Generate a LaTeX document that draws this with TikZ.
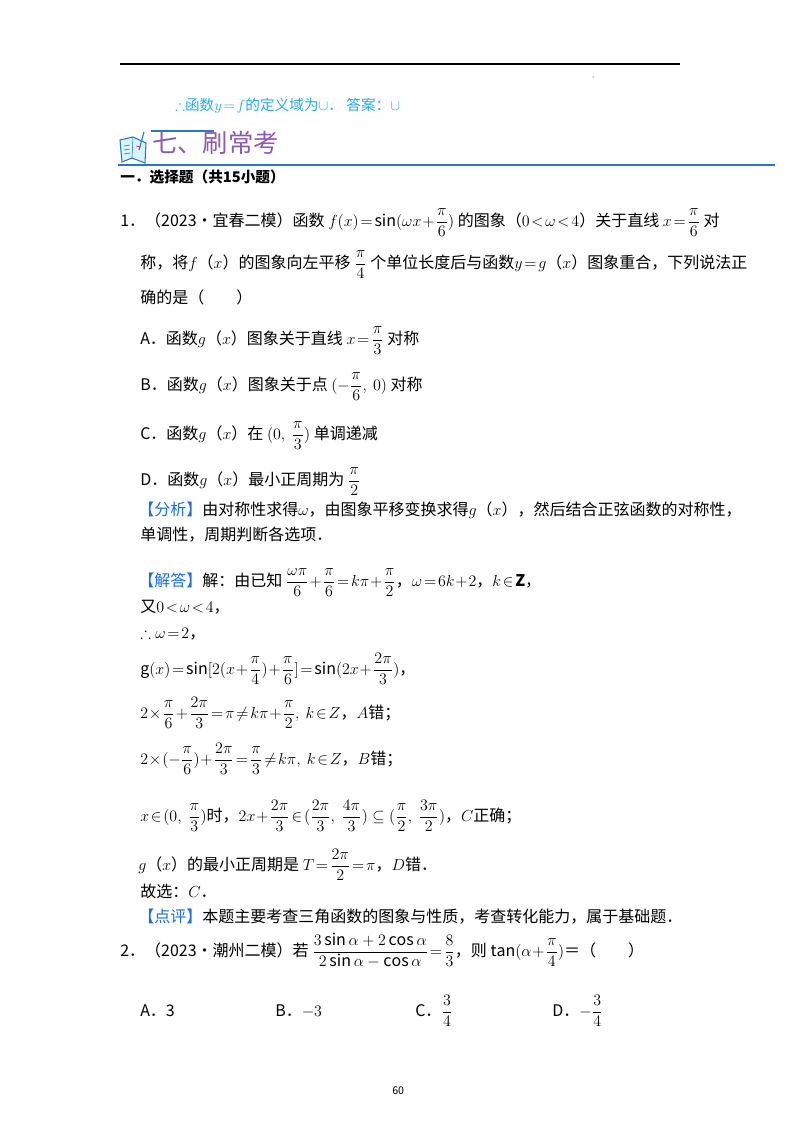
\documentclass[tikz,border=0pt]{standalone}
\usepackage{amsmath,amssymb}
\usepackage{fontspec}
\setmainfont{Noto Sans CJK SC}
\definecolor{cyanT}{RGB}{40,170,235}
\definecolor{purp}{RGB}{140,90,180}
\definecolor{blueL}{RGB}{40,120,200}
\definecolor{lblue}{RGB}{30,110,220}
\tikzset{txt/.style={anchor=base west,inner sep=0pt,font=\fontsize{12}{14}\selectfont}}
\newcommand\tl[4]{\node[txt] (#1) at (#2,#3) {#4};}
\begin{document}
\begin{tikzpicture}[x=0.75pt,y=-0.75pt]
\useasboundingbox (0,0) rectangle (800,1132);
\fill[white] (0,0) rectangle (800,1132);
\draw[line width=1pt] (120,64) -- (680,64);
\fill (593,77) circle (0.5);
\node[txt,text=cyanT,font=\fontsize{11}{13}\selectfont] (blue) at (175,110) {$\therefore$函数$y\!=\!f$的定义域为$\cup$．\ 答案：$\cup$};
% book icon
\draw[blueL,fill=cyan!15,line width=0.8pt] (120,140) -- (133,137) -- (146,143) -- (145,163) -- (132,158) -- (122,162) -- cycle;
\draw[blueL] (133,137) -- (132,158);
\draw[green!60!black] (124,146)--(130,145) (124,150)--(130,149) (124,154)--(130,153);
\draw[red] (136,146)--(141,147);
\draw[blueL,line width=0.8pt] (139,150) -- (144,132);
\draw[blueL,line width=2pt] (151,131) -- (214,131);
\node[txt,text=purp,font=\fontsize{19}{22}\selectfont] (title) at (152,152) {七、刷常考};
\draw[blueL,line width=1.5pt] (118,165) -- (775,165);
\node[txt,font=\fontsize{11}{13}\selectfont\bfseries] (sec) at (120,182) {一．选择题（共15小题）};
\tl{q1a}{120}{226}{1．（2023•宜春二模）函数 $f(x)\!=\!\sin(\omega x\!+\!\dfrac{\pi}{6})$ 的图象（$0\!<\!\omega\!<\!4$）关于直线 $x\!=\!\dfrac{\pi}{6}$ 对}
\tl{q1b}{140}{268}{称，将$f$（$x$）的图象向左平移 $\dfrac{\pi}{4}$ 个单位长度后与函数$y\!=\!g$（$x$）图象重合，下列说法正}
\tl{q1c}{140}{303}{确的是（\qquad）}
\tl{oa}{140}{344}{A．函数$g$（$x$）图象关于直线 $x\!=\!\dfrac{\pi}{3}$ 对称}
\tl{ob}{140}{390}{B．函数$g$（$x$）图象关于点 $(-\dfrac{\pi}{6},\ 0)$ 对称}
\tl{oc}{140}{439}{C．函数$g$（$x$）在 $(0,\ \dfrac{\pi}{3})$ 单调递减}
\tl{od}{140}{485}{D．函数$g$（$x$）最小正周期为 $\dfrac{\pi}{2}$}
\tl{fx}{138}{515}{\textcolor{lblue}{【分析】}由对称性求得$\omega$，由图象平移变换求得$g$（$x$），然后结合正弦函数的对称性，}
\tl{fx2}{140}{540}{单调性，周期判断各选项．}
\tl{jd}{138}{586}{\textcolor{lblue}{【解答】}解：由已知 $\dfrac{\omega\pi}{6}\!+\!\dfrac{\pi}{6}\!=\!k\pi\!+\!\dfrac{\pi}{2}$，$\omega\!=\!6k\!+\!2$，$k\!\in\!\mathbf{Z}$，}
\tl{l1}{140}{612}{又$0\!<\!\omega\!<\!4$，}
\tl{l2}{140}{638}{$\therefore\omega\!=\!2$，}
\tl{l3}{140}{674}{$\mathrm{g}(x)\!=\!\sin[2(x\!+\!\dfrac{\pi}{4})\!+\!\dfrac{\pi}{6}]\!=\!\sin(2x\!+\!\dfrac{2\pi}{3})$，}
\tl{l4}{140}{718}{$2\!\times\!\dfrac{\pi}{6}\!+\!\dfrac{2\pi}{3}\!=\!\pi\!\neq\! k\pi\!+\!\dfrac{\pi}{2},\ k\!\in\! Z$，$A$错；}
\tl{l5}{140}{764}{$2\!\times\!(-\dfrac{\pi}{6})\!+\!\dfrac{2\pi}{3}\!=\!\dfrac{\pi}{3}\!\neq\! k\pi,\ k\!\in\! Z$，$B$错；}
\tl{l6}{140}{821}{$x\!\in\!(0,\ \dfrac{\pi}{3})$时，$2x\!+\!\dfrac{2\pi}{3}\!\in\!(\dfrac{2\pi}{3},\ \dfrac{4\pi}{3})\subseteq(\dfrac{\pi}{2},\ \dfrac{3\pi}{2})$，$C$正确；}
\tl{l7}{138}{870}{$g$（$x$）的最小正周期是 $T\!=\!\dfrac{2\pi}{2}\!=\!\pi$，$D$错．}
\tl{l8}{140}{897}{故选：$C$．}
\tl{dp}{138}{922}{\textcolor{lblue}{【点评】}本题主要考查三角函数的图象与性质，考查转化能力，属于基础题．}
\tl{q2}{120}{956}{2．（2023•潮州二模）若 $\dfrac{3\sin\alpha+2\cos\alpha}{2\sin\alpha-\cos\alpha}\!=\!\dfrac{8}{3}$，则 $\tan(\alpha\!+\!\dfrac{\pi}{4})$＝（\qquad）}
\tl{a2}{140}{1016}{A．3}
\tl{b2}{275}{1016}{B．$-3$}
\tl{c2}{415}{1016}{C．$\dfrac{3}{4}$}
\tl{d2}{552}{1016}{D．$-\dfrac{3}{4}$}
\node[txt,font=\fontsize{8}{9}\selectfont] (pg) at (392,1094) {60};
\end{tikzpicture}
\end{document}
